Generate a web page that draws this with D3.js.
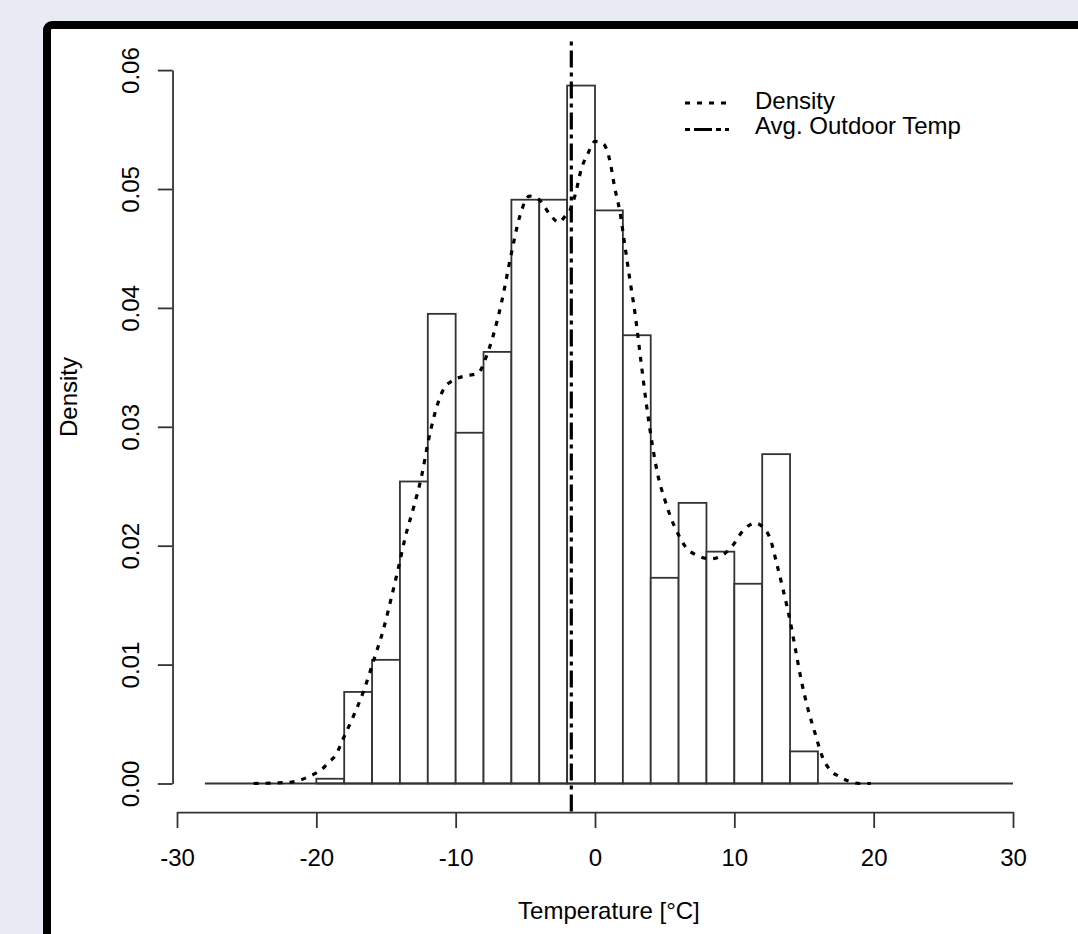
<!DOCTYPE html>
<html>
<head>
<meta charset="utf-8">
<script src="https://cdn.jsdelivr.net/npm/d3@7"></script>
<style>
  html, body { margin: 0; padding: 0; background: #e8ebf4; overflow: hidden; }
  svg { display: block; }
  text { font-family: "Liberation Sans", Arial, Helvetica, sans-serif; fill: #000; }
</style>
</head>
<body>
<svg id="chart" width="1078" height="934"></svg>
<script>
// ---------- data ----------
const binStarts = [-20, -18, -16, -14, -12, -10, -8, -6, -4, -2, 0, 2, 4, 6, 8, 10, 12, 14];
const binWidth = 2;
const binDensity = [0.0004, 0.0077, 0.0104, 0.0254, 0.0395, 0.0295, 0.0363, 0.0491, 0.0491, 0.0587,
                    0.0482, 0.0377, 0.0173, 0.0236, 0.0195, 0.0168, 0.0277, 0.0027];

const densX = [-24.5, -22.0, -20.5, -19.5, -19.1, -18.6, -18.1, -17.4, -16.6, -15.9, -15.2, -14.6, -14.1,
               -13.6, -13.0, -12.4, -12.0, -11.5, -10.9, -10.2, -9.2, -8.4, -7.8, -7.3, -6.7, -6.0, -5.4,
               -4.7, -4.0, -3.2, -2.6, -2.15, -1.8, -1.4, -1.0, -0.5, 0.0, 0.6, 1.1, 1.4, 1.8, 2.15, 2.5,
               2.9, 3.3, 3.7, 4.1, 4.5, 5.0, 5.5, 6.0, 6.5, 7.3, 8.3, 9.0, 9.8, 10.65, 11.5, 12.1, 12.6,
               13.0, 13.5, 14.0, 14.4, 14.8, 15.3, 15.8, 16.3, 16.9, 17.5, 18.2, 19.0, 19.8];
const densY = [0.0000, 0.0001, 0.0006, 0.0013, 0.0018, 0.0024, 0.0037, 0.0055, 0.0078, 0.0103, 0.0129, 0.0157, 0.0182,
               0.0208, 0.0233, 0.0261, 0.0286, 0.0311, 0.0331, 0.0339, 0.0343, 0.0345, 0.0359, 0.0377, 0.0405, 0.0446, 0.0477,
               0.0494, 0.0491, 0.0478, 0.0472, 0.0477, 0.0482, 0.0496, 0.0516, 0.0530, 0.0540, 0.0538, 0.0522, 0.0502, 0.0480, 0.0452, 0.0424,
               0.0393, 0.0355, 0.0318, 0.0286, 0.0260, 0.0239, 0.0222, 0.0209, 0.0199, 0.0192, 0.0189, 0.0191, 0.0199, 0.0213, 0.0219, 0.0215, 0.0205,
               0.0187, 0.0163, 0.0137, 0.0112, 0.0087, 0.0062, 0.0042, 0.0023, 0.0011, 0.0006, 0.0002, 0.0000, 0.0000];

const avgTemp = -1.7;
const baselineRange = [-28, 30];
const xTicks = [-30, -20, -10, 0, 10, 20, 30];
const yTicks = [0, 0.01, 0.02, 0.03, 0.04, 0.05, 0.06];
const legendLabels = ["Density", "Avg. Outdoor Temp"];
const xTitle = "Temperature [\u00B0C]";
const yTitle = "Density";

// ---------- layout ----------
const svg = d3.select("#chart");
const FONT = 24;
const ink = "#333";

// frame
svg.append("rect")
  .attr("x", 47).attr("y", 25).attr("width", 1100).attr("height", 1000)
  .attr("rx", 5).attr("fill", "#fff").attr("stroke", "#000").attr("stroke-width", 8);

const x = d3.scaleLinear().domain([-30, 30]).range([177, 1013]);
const y = d3.scaleLinear().domain([0, 0.06]).range([783.5, 70.1]);

const plotLeft = x(-30.32), plotRight = x(32.32);
const plotTop = y(0.0624), plotBottom = y(-0.0024);

// histogram bars
svg.append("g").selectAll("rect")
  .data(binStarts.map((s, i) => ({ x0: s, x1: s + binWidth, v: binDensity[i] })))
  .join("rect")
  .attr("x", d => x(d.x0))
  .attr("width", d => x(d.x1) - x(d.x0))
  .attr("y", d => y(d.v))
  .attr("height", d => y(0) - y(d.v))
  .attr("fill", "#fff")
  .attr("stroke", ink)
  .attr("stroke-width", 1.8);

// baseline
svg.append("line")
  .attr("x1", x(baselineRange[0])).attr("x2", x(baselineRange[1]))
  .attr("y1", y(0)).attr("y2", y(0))
  .attr("stroke", ink).attr("stroke-width", 1.8);

// density curve
const line = d3.line().x(d => x(d[0])).y(d => y(d[1])).curve(d3.curveMonotoneX);
svg.append("path")
  .attr("d", line(densX.map((v, i) => [v, densY[i]])))
  .attr("fill", "none").attr("stroke", "#000").attr("stroke-width", 3.2)
  .attr("stroke-dasharray", "5,7");

// avg temp vertical line
svg.append("line")
  .attr("x1", x(avgTemp)).attr("x2", x(avgTemp))
  .attr("y1", plotTop).attr("y2", plotBottom)
  .attr("stroke", "#000").attr("stroke-width", 3.2)
  .attr("stroke-dasharray", "4,5,17,5");

// x axis
const xAxis = svg.append("g")
  .attr("transform", `translate(0,${plotBottom})`)
  .call(d3.axisBottom(x).tickValues(xTicks).tickSize(16).tickSizeOuter(0).tickFormat(d => String(d)));
xAxis.selectAll("path, line").attr("stroke", ink).attr("stroke-width", 1.8);
xAxis.selectAll("text")
  .attr("y", 866 - plotBottom).attr("dy", 0)
  .style("font-size", FONT + "px").style("font-family", "Liberation Sans, Arial, sans-serif").attr("fill", "#000");

// y axis
const yAxis = svg.append("g")
  .attr("transform", `translate(${plotLeft},0)`)
  .call(d3.axisLeft(y).tickValues(yTicks).tickSize(14.7).tickSizeOuter(0).tickFormat(d3.format(".2f")));
yAxis.selectAll("path, line").attr("stroke", ink).attr("stroke-width", 1.8);
yAxis.selectAll("text")
  .attr("transform", "rotate(-90)")
  .attr("x", 0).attr("y", 139 - plotLeft).attr("dy", 0)
  .attr("text-anchor", "middle")
  .style("font-size", FONT + "px").style("font-family", "Liberation Sans, Arial, sans-serif").attr("fill", "#000");

// axis titles
svg.append("text")
  .attr("x", (plotLeft + plotRight) / 2).attr("y", 918.5)
  .attr("text-anchor", "middle").style("font-size", FONT + "px")
  .text(xTitle);

svg.append("text")
  .attr("transform", `translate(77,397) rotate(-90)`)
  .attr("text-anchor", "middle").style("font-size", FONT + "px")
  .text(yTitle);

// legend
const legend = svg.append("g");
const legRows = [
  { label: legendLabels[0], lineY: 103, baseY: 108.5, dash: "5,7" },
  { label: legendLabels[1], lineY: 129.5, baseY: 134, dash: "5,4,18,4" }
];
legRows.forEach(r => {
  legend.append("line")
    .attr("x1", 685).attr("x2", 729).attr("y1", r.lineY).attr("y2", r.lineY)
    .attr("stroke", "#000").attr("stroke-width", 3.2).attr("stroke-dasharray", r.dash);
  legend.append("text")
    .attr("x", 755).attr("y", r.baseY).style("font-size", FONT + "px")
    .text(r.label);
});
</script>
</body>
</html>
